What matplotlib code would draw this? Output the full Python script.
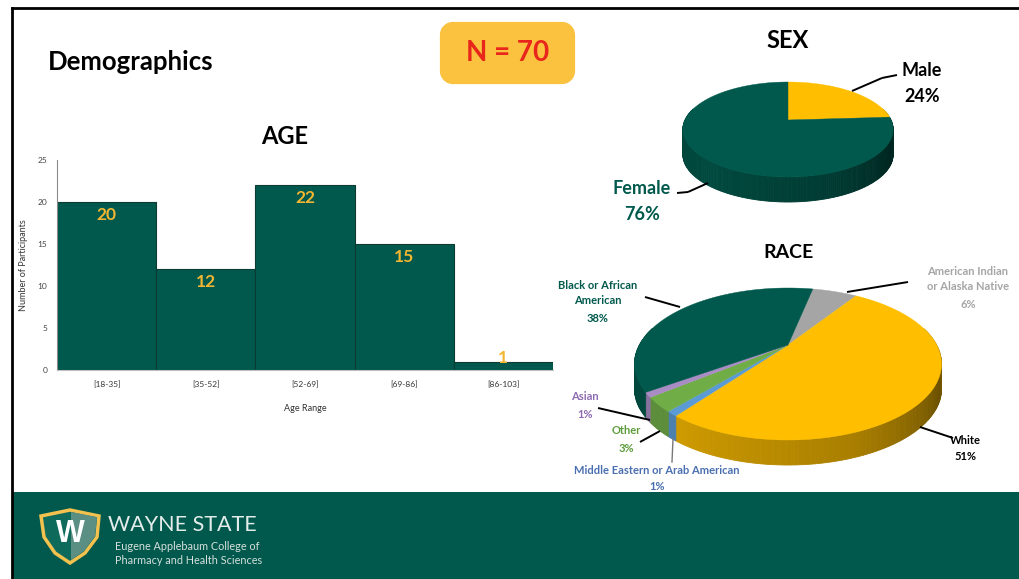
import numpy as np
import matplotlib
matplotlib.use("Agg")
import matplotlib.pyplot as plt
from matplotlib.patches import Polygon, Rectangle, FancyBboxPatch
from matplotlib.colors import to_rgb

plt.rcParams['font.family'] = ['Lato', 'DejaVu Sans']

GREEN = '#00594C'
GOLD = '#FFBF00'
LABEL_GOLD = '#F2B632'

# Age chart
age_bins = ['[18-35]', '[35-52]', '[52-69]', '[69-86]', '[86-103]']
age_counts = [20, 12, 22, 15, 1]
age_ticks = [0, 5, 10, 15, 20, 25]

# Sex pie
sex_labels = ['Male', 'Female']
sex_values = [24, 76]
sex_colors = [GOLD, GREEN]

# Race pie, clockwise from the grey slice
race_labels = ['American Indian\nor Alaska Native', 'White', 'Middle Eastern or Arab American',
               'Other', 'Asian', 'Black or African\nAmerican']
race_values = [6, 51, 1, 3, 1, 38]
race_colors = ['#A5A5A5', GOLD, '#5B9BD5', '#70AD47', '#A98CC4', GREEN]

fig = plt.figure(figsize=(10.2, 5.79), dpi=100)

# whole figure axes in pixels, used for frame, pies and footer
bg = fig.add_axes([0, 0, 1, 1])
bg.set_xlim(0, 1020)
bg.set_ylim(579, 0)
bg.axis('off')


def project(theta, cx, cy, r, t, k):
    # circle seen in perspective, apex stays at cx, cy
    s = np.sin(theta)
    c = np.cos(theta)
    return cx + r * c / (1 + k * s), cy - t * s / (1 + k * s)


def wall_shade(theta):
    deg = np.degrees(theta) % 360
    return np.interp(deg, [150, 230, 290, 335, 360, 390], [0.75, 0.82, 0.66, 0.42, 0.62, 0.7])


def draw_pie(values, colors, start, cx, cy, r, t, k, depth):
    spans = np.array(values) / sum(values) * 2 * np.pi
    edges = np.radians(start) - np.concatenate([[0], np.cumsum(spans)])
    # side wall first
    for i, col in enumerate(colors):
        th = np.linspace(edges[i], edges[i + 1], max(int(np.degrees(spans[i])), 2) + 1)
        for a, b in zip(th[:-1], th[1:]):
            if np.sin((a + b) / 2) > 0.25:
                continue
            xa, ya = project(a, cx, cy, r, t, k)
            xb, yb = project(b, cx, cy, r, t, k)
            shade = wall_shade((a + b) / 2)
            rgb = [v * shade for v in to_rgb(col)]
            bg.add_patch(Polygon([(xa, ya), (xb, yb), (xb, yb + depth), (xa, ya + depth)],
                                 closed=True, fc=rgb, ec=rgb, lw=0.6, zorder=3))
    # top face
    for i, col in enumerate(colors):
        th = np.linspace(edges[i], edges[i + 1], 120)
        x, y = project(th, cx, cy, r, t, k)
        pts = [(cx, cy)] + list(zip(x, y))
        bg.add_patch(Polygon(pts, closed=True, fc=col, ec=col, lw=0.3, zorder=4))


def leader(x0, y0, x1, y1):
    bg.plot([x0, x1], [y0, y1], color='black', lw=1.4, zorder=5, solid_capstyle='butt')


# frame
bg.plot([12, 12], [8, 579], color='black', lw=2)
bg.plot([12, 1020], [8, 8], color='black', lw=2)
bg.add_patch(Rectangle((13, 492), 1007, 87, fc=GREEN, ec='none'))

bg.text(48, 62, 'Demographics', fontsize=18.5, fontweight='bold', va='center', color='black')
bg.add_patch(FancyBboxPatch((451, 33), 113, 40, boxstyle='round,pad=0,rounding_size=2', fc='#FAC23E', ec='#FAC23E', lw=16,
                            joinstyle='round'))
bg.text(507.5, 53, 'N = 70', fontsize=20, fontweight='bold', color='#E8261C', ha='center', va='center')

# titles
bg.text(285, 136, 'AGE', fontsize=17, fontweight='bold', ha='center', va='center')
bg.text(788, 40, 'SEX', fontsize=17, fontweight='bold', ha='center', va='center')
bg.text(789, 252, 'RACE', fontsize=14, fontweight='bold', ha='center', va='center')

# bar chart
ax = fig.add_axes([57 / 1020, 1 - 370 / 579, (553 - 57) / 1020, (370 - 160) / 579])
ax.patch.set_alpha(0)
ax.bar(range(len(age_counts)), age_counts, width=1, color=GREEN, edgecolor='#0B3B33', linewidth=0.8)
for i, v in enumerate(age_counts):
    off = -13 if v > 1 else 4
    ax.annotate(str(v), (i, v), xytext=(0, off * 0.72), textcoords='offset points', ha='center', va='center',
                color=LABEL_GOLD, fontsize=12.5, fontweight='bold')
ax.set_xlim(-0.5, 4.5)
ax.set_ylim(0, 25)
ax.set_xticks(range(len(age_bins)))
ax.set_xticklabels(age_bins, fontsize=6)
ax.set_yticks(age_ticks)
ax.tick_params(axis='y', labelsize=6, length=0, pad=7, labelcolor='#444444')
ax.tick_params(axis='x', length=0, pad=8, labelcolor='#333333')
ax.set_xlabel('Age Range', fontsize=6.5, labelpad=11, color='#333333')
ax.set_ylabel('Number of Participants', fontsize=6.5, labelpad=7, color='#333333')
for side in ['top', 'right']:
    ax.spines[side].set_visible(False)
ax.spines['left'].set_color('#8C8C8C')
ax.spines['bottom'].set_color('#BFBFBF')

# sex pie
draw_pie(sex_values, sex_colors, 90, 788, 120, 103, 45.6, 0.2, 25)
leader(852, 91, 882, 78)
leader(882, 78, 897, 75)
leader(708, 183, 688, 192)
leader(688, 192, 677, 193)
bg.text(922, 70, sex_labels[0], fontsize=13, fontweight='bold', ha='center', va='center')
bg.text(922, 97, f'{sex_values[0]}%', fontsize=13, fontweight='bold', ha='center', va='center')
bg.text(642, 188, sex_labels[1], fontsize=13, fontweight='bold', ha='center', va='center', color=GREEN)
bg.text(642, 215, f'{sex_values[1]}%', fontsize=13, fontweight='bold', ha='center', va='center', color=GREEN)

# race pie
draw_pie(race_values, race_colors, 78, 788, 345, 148.6, 71.25, 0.25, 25)
leader(680, 307, 645, 297)
leader(847, 292, 908, 282)
leader(920, 427, 953, 438)
leader(650, 420, 598, 408)
leader(660, 431, 640, 442)
bg.plot([673, 672], [439, 462], color='#777777', lw=1, zorder=5)

race_pos = [(968, 279), (965, 440), (657, 470), (626, 431), (585, 397), (598, 293)]
race_text = ['#A5A5A5', 'black', '#4A6FB0', '#5E9C3C', '#8E6BB0', GREEN]
for name, val, pos, col in zip(race_labels, race_values, race_pos, race_text):
    n = name.count('\n')
    bg.text(pos[0], pos[1], name, fontsize=8, fontweight='bold', ha='center', va='center', color=col,
            linespacing=1.45)
    bg.text(pos[0], pos[1] + 8 * n + 17, f'{val}%', fontsize=8, fontweight='bold', ha='center', va='center', color=col)

# footer logo
bg.add_patch(Polygon([(41, 516), (70, 510), (99, 516), (97, 537), (85, 553), (70, 563), (55, 553), (44, 537)],
                     closed=True, fc='#0E6B5C', ec='#F2C14E', lw=2.5, zorder=3))
bg.add_patch(Polygon([(71, 512), (97, 517), (95, 536), (84, 551), (71, 560)], closed=True, fc='#5C8F84', ec='none', zorder=3))
bg.text(70, 534, 'W', fontsize=22, fontweight='bold', color='white', ha='center', va='center', zorder=4,
        family='Liberation Sans')
bg.text(108, 525, 'WAYNE STATE', fontsize=15.5, color='#E4ECEA', va='center')
bg.text(115, 546, 'Eugene Applebaum College of', fontsize=7.8, color='#D5E0DD', va='center')
bg.text(115, 561, 'Pharmacy and Health Sciences', fontsize=7.8, color='#D5E0DD', va='center')

fig.savefig('out.png', dpi=100)
